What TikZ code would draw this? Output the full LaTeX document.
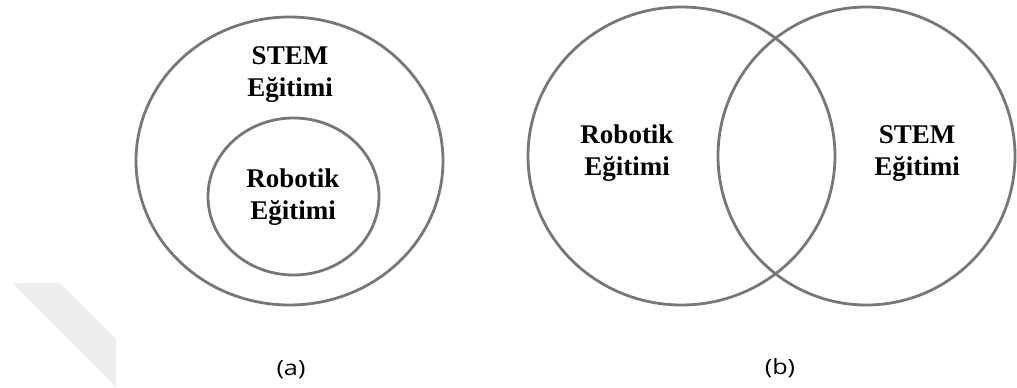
\documentclass[tikz,border=0pt]{standalone}
\usepackage{fontspec}
\setmainfont{Liberation Serif}
\newfontfamily\lblfont[FakeStretch=1.2]{Open Sans}
\newfontfamily\setfont{Liberation Serif}
\definecolor{ringgray}{HTML}{777777}
\definecolor{markgray}{HTML}{EEEEEE}
\tikzset{
  ring/.style={draw=ringgray, line width=2.8bp},
  setlabel/.style={font=\setfont\bfseries\fontsize{27bp}{32bp}\selectfont, align=center, inner sep=0pt, anchor=north},
  partlabel/.style={font=\lblfont\fontsize{21bp}{23bp}\selectfont, text=black, inner sep=0pt}
}
\begin{document}
\begin{tikzpicture}[x=1bp, y=-1bp]
\useasboundingbox (0,0) rectangle (1017,387);
% faint watermark shape
\fill[markgray] (12,283) -- (60,283) -- (116,339) -- (116,387) -- cycle;
% (a) nested sets
\draw[ring] (289.5,161) ellipse [x radius=153.5, y radius=144];
\draw[ring] (293.5,196.5) ellipse [x radius=85.5, y radius=78.5];
\node[setlabel] (stemA) at (290,46) {STEM\\Eğitimi};
\node[setlabel] (robA) at (293,169) {Robotik\\Eğitimi};
\node[partlabel] (capA) at (291,370) {(a)};
% (b) overlapping sets
\draw[ring] (681.5,156) ellipse [x radius=153.5, y radius=149];
\draw[ring] (866.5,156) ellipse [x radius=148.5, y radius=149];
\node[setlabel] (robB) at (627,125) {Robotik\\Eğitimi};
\node[setlabel] (stemB) at (917,125) {STEM\\Eğitimi};
\node[partlabel] (capB) at (780,368) {(b)};
\end{tikzpicture}
\end{document}
